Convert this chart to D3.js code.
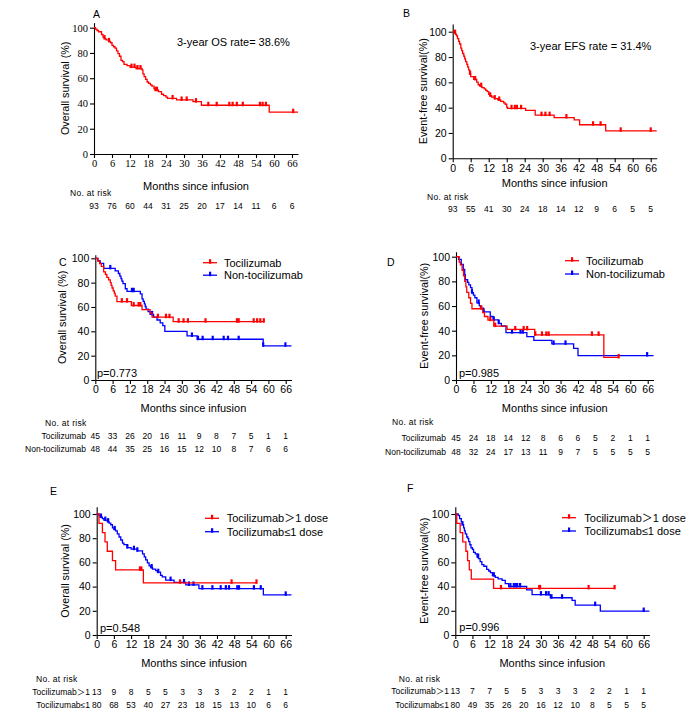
<!DOCTYPE html>
<html><head><meta charset="utf-8">
<script src="https://cdn.jsdelivr.net/npm/d3@7"></script>
<style>
body{margin:0;background:#fff;}
svg{display:block;}
text{font-family:"Liberation Sans",Arial,"Noto Sans CJK SC",sans-serif;fill:#000;}
</style>
</head><body>
<svg id="chart" width="694" height="719"></svg>
<script>
// ---------- shared tick labels ----------
const monthTicks = [0,6,12,18,24,30,36,42,48,54,60,66];
const pctTicks = [0,20,40,60,80,100];

// ---------- Panel A: overall survival (all) ----------
const A_t = [0,0.5,1,1.5,2.5,3,3.5,4,5,5.5,6,6.5,7,7.5,8,8.5,9,9.5,10,11,12,14,16,16.3,16.7,17.2,17.7,18.2,18.8,19.3,20,20.5,21.5,22.5,23.2,24,24.5,27.5,33,35.8,58.4];
const A_s = [100,98.9,97.8,96.8,94.6,92.5,91.4,90.3,89.2,88.1,86,84.9,83.8,81.7,79.5,77.4,74.2,73.1,71,69.9,68.8,67.7,66.6,63.4,61.3,59.1,57,55.9,54.8,53.7,51.6,50.5,49.4,47.3,46.2,45.1,44,42.8,41.5,38.6,33.1];
const A_c = [3.5,5,12.5,13.5,14.5,15.5,20.5,21,26.2,29.2,30.9,34,38.1,40.9,45.1,46.2,47.6,49.6,55.3,56.2,57.3,66.4];
const A_risk = [93,76,60,44,31,25,20,17,14,11,6,6];

// ---------- Panel B: event-free survival (all) ----------
const B_t = [0,0.5,1,1.3,1.6,2,2.3,2.7,3,3.3,3.7,4,4.3,4.7,5,5.3,5.6,6,7,8,8.5,9,9.7,10.5,11,11.5,12,12.5,13,14,15,16,17,17.5,18,18.3,24.3,27.5,33.8,40.5,42.3,51];
const B_s = [100,98.9,97.8,96.7,94.6,92.4,90.3,87.1,85,82.8,80.6,78.5,76.3,74.2,72,69.8,66.6,64.5,62.3,60.2,58.1,57,55.9,54.8,53.7,52.6,50.5,49.4,48.3,47.2,46.1,44.9,43.8,42.7,40.5,39.5,37.9,34.1,32.2,30.3,26.5,21.7];
const B_c = [0.8,5.8,7.5,9.5,12.5,14,15.5,19.6,20.7,21.4,22.8,29.6,30.9,32.3,37.9,46.8,49.3,56,66];
const B_risk = [93,55,41,30,24,18,14,12,9,6,5,5];

// ---------- Panel C: OS by tocilizumab ----------
const C_toci_t = [0,0.9,1.5,2.1,2.9,3.5,4,4.6,5.2,5.5,5.8,6.2,6.6,6.9,7.5,12.5,16.2,19,19.7,27];
const C_toci_s = [100,97.8,95.6,93.3,88.9,86.7,84.4,82.2,80,77.8,75.6,73.3,71.1,68.9,64.4,61.2,57.8,55,51.6,47.9];
const C_toci_c = [9.2,11,13.3,15,15.6,21.7,24.5,25.7,28.9,30.6,32.1,38.2,49.1,49.7,54.9,56.1,57.2,58.4];
const C_non_t = [0,0.9,1.7,2.9,6.9,8,8.5,8.9,9.2,9.6,10.4,11,15.6,16.2,16.6,17,17.3,17.6,18.3,19,20.2,21.4,22.5,23.4,24.1,31.8,35.3,58.2];
const C_non_s = [100,97.9,95.8,91.7,89.6,87.5,85.4,83.3,81.3,79.2,75,72.9,70.8,66.7,64.6,62.5,60.4,58.3,56.2,53.9,51.6,49.3,46.9,44.6,39.9,36.2,33.5,28.1];
const C_non_c = [5.2,12.7,13.3,19.7,33.5,35.6,37.2,40.7,44.5,46,49.7,58.2,65.9];
const C_risk_toci = [45,33,26,20,16,11,9,8,7,5,1,1];
const C_risk_non = [48,44,35,25,16,15,12,10,8,7,6,6];

// ---------- Panel D: EFS by tocilizumab ----------
const D_toci_t = [0,1.1,1.5,2.1,2.6,3,3.4,3.7,4.4,5,5.5,9.2,9.8,11,13,17.6,27.1,50.9];
const D_toci_s = [100,95.6,93.3,88.9,84.4,80,75.6,71.1,66.7,62.2,57.8,54.6,51.5,48.5,43.7,41,36.6,18.3];
const D_toci_c = [8.7,11.8,13.5,20.4,23.3,24.5,27.3,29.6,31.1,31.9,46.8,49.1,56];
const D_non_t = [0,0.9,1.8,2.5,3,3.2,4,4.4,5,5.5,6,6.5,7.2,8,8.4,9.5,11.8,12.8,14.7,15.6,17.2,24.4,26.8,33,40.5,42];
const D_non_s = [100,97.9,93.8,89.6,85.4,81.3,79.2,77.1,75,70.8,68.8,66.7,62.5,60.4,58.3,55.2,51.5,48.8,46,43.8,38.4,35.2,32.2,29.3,25.7,19.8];
const D_non_c = [5.5,7.8,9.5,13,14.7,19.3,22.2,23,33.6,37.7,65.8];
const D_risk_toci = [45,24,18,14,12,8,6,6,5,2,1,1];
const D_risk_non = [48,32,24,17,13,11,9,7,5,5,5,5];

// ---------- Panel E: OS by tocilizumab dose ----------
const E_gt_t = [0,0.8,2,2.9,3.7,5.5,6.6,16.3];
const E_gt_s = [100,92.3,84.6,76.9,69.2,61.5,53.8,43.1];
const E_gt_c = [15.1,15.6,29.1,47.1,55.8];
const E_le_t = [0,0.8,1.2,2,2.5,3.7,4.3,4.9,5.5,6,6.6,7.2,7.8,8.4,9,9.5,10.7,12,14.2,16,16.6,17.1,17.7,18.3,18.9,19.5,20.6,21.2,22.3,22.9,24.1,27,31.1,35.7,58.2];
const E_le_s = [100,98.8,97.5,96.2,95,93.7,92.4,91.1,88.6,87.3,86,83.5,81,78.5,76,74.7,72.2,70.9,69.6,67.1,64.6,62.1,59.6,57.1,55.8,54.5,53.2,51.9,49.3,48,45.4,43.5,41.4,38.3,33.2];
const E_le_c = [1.5,3,4,6.3,10.7,13,14.2,19.2,21.5,25.8,30.5,32.2,33.8,36.9,40.4,43.3,45.1,46.2,49.1,49.7,54.9,57.3,66];
const E_risk_gt = [13,9,8,5,5,3,3,3,2,2,1,1];
const E_risk_le = [80,68,53,40,27,23,18,15,13,10,6,6];

// ---------- Panel F: EFS by tocilizumab dose ----------
const F_gt_t = [0,0.5,1.7,2.6,3.7,4.3,4.9,5.6,13.4];
const F_gt_s = [100,92.3,84.6,76.9,69.2,61.5,53.8,46.2,38.5];
const F_gt_c = [16,29.4,29.7,46.7,55.8];
const F_le_t = [0,1,1.5,2.1,2.5,2.9,3.2,3.5,4,4.4,4.7,5.1,5.5,6,6.4,7,7.6,8.1,8.7,9.3,10,11,11.7,12.3,13,14,15,16.4,17.5,18.7,25,26.9,33.3,40.9,42,50.8];
const F_le_s = [100,98.8,96.2,93.7,91.2,88.6,86.1,83.5,81,79.7,77.2,74.6,72.1,70.8,68.3,67,64.5,63.2,60.6,58.1,56.8,54.2,52.9,51.6,49,47.7,46.4,45.1,42.5,40.1,37.3,33.4,30.8,28.6,24.7,19.8];
const F_le_c = [2.5,8,13.5,19.3,20.5,21.2,21.7,22.7,30,31.8,32.7,33.7,37.4,49,66];
const F_risk_gt = [13,7,7,5,5,3,3,3,2,2,1,1];
const F_risk_le = [80,49,35,26,20,16,12,10,8,5,5,5];

const RED = "#ff0000", BLUE = "#0000ff";
const svg = d3.select("#chart");

function stepAt(ts, ss, t){
  let v = ss[0];
  for (let i=0;i<ts.length;i++){ if (ts[i] <= t + 1e-9) v = ss[i]; }
  return v;
}

function panel(cfg){
  const g = svg.append("g");
  const pxPerMonth = (cfg.x66 - cfg.x0)/66;
  const x = d3.scaleLinear().domain([0,68]).range([cfg.x0, cfg.x0 + 68*pxPerMonth]);
  const pxPerPct = (cfg.y0 - cfg.y100)/100;
  const y = d3.scaleLinear().domain([0,cfg.ytop]).range([cfg.y0, cfg.y0 - cfg.ytop*pxPerPct]);
  const tickFont = cfg.serif ? '"Liberation Serif","Times New Roman",serif' : '"Liberation Sans",Arial,sans-serif';

  const xa = g.append("g").attr("transform",`translate(0,${cfg.y0})`)
    .call(d3.axisBottom(x).tickValues(monthTicks).tickSize(4).tickSizeOuter(0).tickPadding(2));
  const ya = g.append("g").attr("transform",`translate(${cfg.x0},0)`)
    .call(d3.axisLeft(y).tickValues(pctTicks).tickSize(4).tickSizeOuter(0).tickPadding(2));
  [xa,ya].forEach(a=>{
    a.selectAll("path,line").attr("stroke","#000").attr("stroke-width",1.1);
    a.selectAll("text").style("font-family",tickFont).style("font-size","10.5px").attr("fill","#000");
  });

  // curves
  cfg.series.forEach(s=>{
    const pts = s.t.map((t,i)=>[t, s.s[i]]);
    pts.push([s.end, s.s[s.s.length-1]]);
    const line = d3.line().x(d=>x(d[0])).y(d=>y(d[1])).curve(d3.curveStepAfter);
    g.append("path").attr("d", line(pts)).attr("fill","none").attr("stroke", s.color).attr("stroke-width",1.3);
    g.selectAll(null).data(s.c).enter().append("rect")
      .attr("x", d=>x(d)-1.1).attr("y", d=>y(stepAt(s.t,s.s,d))-3.5)
      .attr("width",2.2).attr("height",4.5).attr("fill", s.color);
  });

  // axis title
  g.append("text").attr("x",(cfg.x0 + x(68))/2).attr("y",cfg.y0+cfg.tdy).attr("text-anchor","middle")
    .style("font-size","11px").text("Months since infusion");
  const cy = (cfg.y0 + y(cfg.ytop))/2;
  g.append("text").attr("transform",`translate(${cfg.ytx},${cy}) rotate(-90)`).attr("text-anchor","middle")
    .attr("dy","0.35em").style("font-size","10.8px").text(cfg.ylabel);

  // panel letter
  g.append("text").attr("x",cfg.lx).attr("y",cfg.ly).style("font-size","10.5px").text(cfg.letter);

  // annotation
  if (cfg.note) g.append("text").attr("x",cfg.note.x).attr("y",cfg.note.y).style("font-size","11px").text(cfg.note.text);

  // legend
  if (cfg.legend){
    cfg.legend.items.forEach((it,i)=>{
      const ly = cfg.legend.y + i*cfg.legend.dy;
      g.append("line").attr("x1",cfg.legend.x).attr("x2",cfg.legend.x+14).attr("y1",ly).attr("y2",ly)
        .attr("stroke",it.color).attr("stroke-width",1.3);
      g.append("rect").attr("x",cfg.legend.x+6).attr("y",ly-3.5).attr("width",2.2).attr("height",4.5).attr("fill",it.color);
      g.append("text").attr("x",cfg.legend.tx).attr("y",ly).attr("dy","0.36em").style("font-size","11px").text(it.label);
    });
  }

  // risk table
  g.append("text").attr("x",cfg.risk.hx).attr("y",cfg.risk.hy).style("font-size","8.5px").style("letter-spacing","0.3px").text("No. at risk");
  cfg.risk.rows.forEach(r=>{
    if (r.label) g.append("text").attr("x",cfg.risk.lx).attr("y",r.y).attr("text-anchor","end")
      .style("font-size","8.5px").text(r.label);
    g.selectAll(null).data(r.vals).enter().append("text")
      .attr("x",(d,i)=>x(monthTicks[i])).attr("y",r.y).attr("text-anchor","middle")
      .style("font-size","8.5px").text(d=>d);
  });
}

panel({letter:"A", lx:93, ly:18, x0:94, x66:292, y0:154, y100:27.7, ytop:104, serif:true, tdy:36,
  ytx:65, ylabel:"Overall survival (%)",
  note:{x:177, y:46, text:"3-year OS rate= 38.6%"},
  series:[{t:A_t, s:A_s, c:A_c, end:68, color:RED}],
  risk:{hx:70, hy:196, rows:[{vals:A_risk, y:209}]}});

panel({letter:"B", lx:403, ly:17, x0:452.7, x66:650.7, y0:158.3, y100:31.7, ytop:106, tdy:29,
  ytx:423, ylabel:"Event-free survival(%)",
  note:{x:530, y:49.5, text:"3-year EFS rate = 31.4%"},
  series:[{t:B_t, s:B_s, c:B_c, end:68, color:RED}],
  risk:{hx:427, hy:200, rows:[{vals:B_risk, y:212}]}});

panel({letter:"C", lx:59, ly:266, x0:95.3, x66:285.7, y0:380, y100:258.3, ytop:103, tdy:31.5,
  ytx:62, ylabel:"Overall survival (%)",
  note:{x:97, y:377, text:"p=0.773"},
  legend:{x:203, tx:224, y:262.7, dy:12.5, items:[{label:"Tocilizumab",color:RED},{label:"Non-tocilizumab",color:BLUE}]},
  series:[{t:C_non_t, s:C_non_s, c:C_non_c, end:68, color:BLUE},{t:C_toci_t, s:C_toci_s, c:C_toci_c, end:58.4, color:RED}],
  risk:{hx:45, hy:425.5, lx:86, rows:[{label:"Tocilizumab", vals:C_risk_toci, y:439},{label:"Non-tocilizumab", vals:C_risk_non, y:452.3}]}});

panel({letter:"D", lx:387, ly:266, x0:456, x66:647.7, y0:380, y100:256.7, ytop:104, tdy:31.5,
  ytx:424, ylabel:"Event-free survival(%)",
  note:{x:459, y:376.5, text:"p=0.985"},
  legend:{x:565, tx:586, y:260.7, dy:13.3, items:[{label:"Tocilizumab",color:RED},{label:"Non-tocilizumab",color:BLUE}]},
  series:[{t:D_non_t, s:D_non_s, c:D_non_c, end:68, color:BLUE},{t:D_toci_t, s:D_toci_s, c:D_toci_c, end:56, color:RED}],
  risk:{hx:392, hy:425, lx:446, rows:[{label:"Tocilizumab", vals:D_risk_toci, y:441},{label:"Non-tocilizumab", vals:D_risk_non, y:454.7}]}});

panel({letter:"E", lx:50, ly:495, x0:96.7, x66:285.7, y0:635, y100:514, ytop:106, tdy:31.5,
  ytx:65, ylabel:"Overall survival (%)",
  note:{x:100, y:631.5, text:"p=0.548"},
  legend:{x:205, tx:226.7, y:518.3, dy:13.4, items:[{label:"Tocilizumab＞1 dose",color:RED},{label:"Tocilizumab≤1 dose",color:BLUE}]},
  series:[{t:E_le_t, s:E_le_s, c:E_le_c, end:68, color:BLUE},{t:E_gt_t, s:E_gt_s, c:E_gt_c, end:55.8, color:RED}],
  risk:{hx:36, hy:682.3, lx:90, rows:[{label:"Tocilizumab＞1", vals:E_risk_gt, y:694.7},{label:"Tocilizumab≤1", vals:E_risk_le, y:708}]}});

panel({letter:"F", lx:407, ly:492, x0:455.3, x66:643.7, y0:635, y100:514, ytop:106, tdy:31.5,
  ytx:424, ylabel:"Event-free survival(%)",
  note:{x:459.3, y:631, text:"p=0.996"},
  legend:{x:562, tx:584.3, y:517.7, dy:13.3, items:[{label:"Tocilizumab＞1 dose",color:RED},{label:"Tocilizumab≤1 dose",color:BLUE}]},
  series:[{t:F_le_t, s:F_le_s, c:F_le_c, end:68, color:BLUE},{t:F_gt_t, s:F_gt_s, c:F_gt_c, end:55.8, color:RED}],
  risk:{hx:398.7, hy:682.3, lx:449, rows:[{label:"Tocilizumab＞1", vals:F_risk_gt, y:694},{label:"Tocilizumab≤1", vals:F_risk_le, y:708}]}});
</script>
</body></html>
